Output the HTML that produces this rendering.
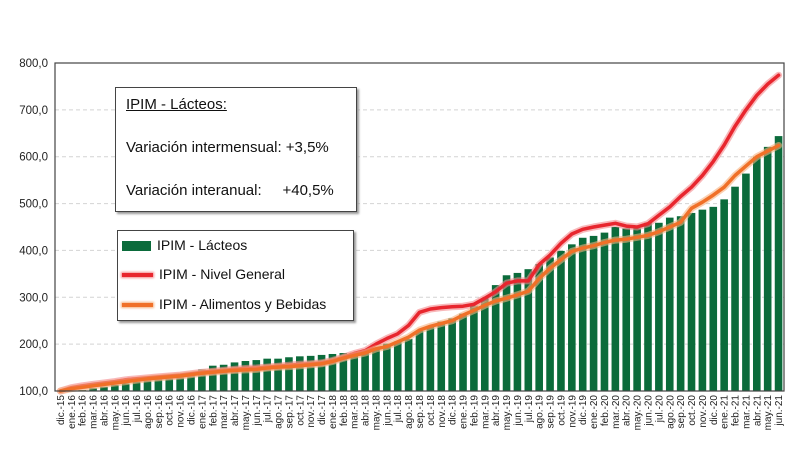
<!DOCTYPE html>
<html><head><meta charset="utf-8"><style>
body{margin:0;background:#fff;width:803px;height:453px;overflow:hidden;font-family:"Liberation Sans","DejaVu Sans",sans-serif}
svg{display:block}
</style></head><body>
<svg id="chart" width="803" height="453"></svg>
<script>
const categories=["dic.-15","ene.-16","feb.-16","mar.-16","abr.-16","may.-16","jun.-16","jul.-16","ago.-16","sep.-16","oct.-16","nov.-16","dic.-16","ene.-17","feb.-17","mar.-17","abr.-17","may.-17","jun.-17","jul.-17","ago.-17","sep.-17","oct.-17","nov.-17","dic.-17","ene.-18","feb.-18","mar.-18","abr.-18","may.-18","jun.-18","jul.-18","ago.-18","sep.-18","oct.-18","nov.-18","dic.-18","ene.-19","feb.-19","mar.-19","abr.-19","may.-19","jun.-19","jul.-19","ago.-19","sep.-19","oct.-19","nov.-19","dic.-19","ene.-20","feb.-20","mar.-20","abr.-20","may.-20","jun.-20","jul.-20","ago.-20","sep.-20","oct.-20","nov.-20","dic.-20","ene.-21","feb.-21","mar.-21","abr.-21","may.-21","jun.-21"];
const lacteos=[100,101,102,106,109,113,116,120,124,126,127,129,132,146,154,156,161,164,166,169,169,172,174,175,177,179,181,182,186,191,201,206,211,228,239,248,255,265,282,298,326,347,352,360,371,385,399,413,427,431,438,450,447,447,459,459,470,473,480,487,493,509,536,564,600,621,644];
const nivelGeneral=[100,107,111,114,117,120,124,126,128,130,132,134,137,140,142,144,146,148,149,151,153,155,157,158,160,165,172,180,186,200,212,222,240,268,275,278,280,281,285,298,312,330,335,335,370,390,415,435,445,450,454,458,452,450,457,475,493,515,535,560,590,625,665,700,731,755,774];
const alimentos=[100,105,108,111,114,117,120,123,126,128,130,132,135,138,140,142,144,145,146,149,151,152,154,156,158,163,170,176,181,190,195,205,215,230,238,244,250,262,272,283,292,298,305,313,340,362,380,398,405,410,417,422,424,428,432,440,450,460,490,503,518,535,560,580,600,612,624];
const yTicks=[100,200,300,400,500,600,700,800];
const yTickLabels=["100,0","200,0","300,0","400,0","500,0","600,0","700,0","800,0"];

const NS="http://www.w3.org/2000/svg";
const svg=document.getElementById('chart');
const L=55,R=784,T=63,B=391,yMin=100,yMax=800;
const slot=(R-L)/categories.length;
const xC=i=>L+slot*(i+0.5);
const yS=v=>B-(v-yMin)/(yMax-yMin)*(B-T);
function mk(tag,attrs,parent){const e=document.createElementNS(NS,tag);for(const k in attrs)e.setAttribute(k,attrs[k]);(parent||svg).appendChild(e);return e;}

mk('rect',{x:L,y:T,width:R-L,height:B-T,fill:'#fff'});
yTicks.forEach((t,i)=>{
  if(t>yMin&&t<yMax){const g=mk('line',{x1:L,x2:R,y1:yS(t),y2:yS(t),stroke:'#d4d4d4','stroke-dasharray':'4,3','stroke-width':1});
  
  }
  const tx=mk('text',{x:48,y:yS(t)+4,'text-anchor':'end','font-size':11.5,fill:'#222'});
  tx.textContent=yTickLabels[i];
  
  
});
lacteos.forEach((v,i)=>{
  const r=mk('rect',{x:xC(i)-3.8,y:yS(v),width:7.6,height:B-yS(v),fill:'#0b6b3b'});
  
  
});
function line(arr,color,halo,name){
  const d=arr.map((v,i)=>(i?'L':'M')+xC(i).toFixed(1)+','+yS(v).toFixed(1)).join('');
  mk('path',{d:d,fill:'none',stroke:halo,'stroke-width':7,'stroke-linejoin':'round','stroke-linecap':'round',opacity:0.6});
  const p=mk('path',{d:d,fill:'none',stroke:color,'stroke-width':3.5,'stroke-linejoin':'round','stroke-linecap':'round'});
  
  
}
line(nivelGeneral,'#e8262e','#f4898c','line-nivel-general');
line(alimentos,'#f07028','#f6b07e','line-alimentos-bebidas');
mk('rect',{x:L,y:T,width:R-L,height:B-T,fill:'none',stroke:'#444','stroke-width':1.2});
categories.forEach((c,i)=>{
  const t=mk('text',{x:0,y:0,'text-anchor':'end','font-size':10,fill:'#222',transform:`translate(${xC(i)+3.5},395) rotate(-90)`});
  t.textContent=c;
  
  
});
</script>
<div style="position:absolute;left:115px;top:87px;width:240px;height:123px;border:1px solid #444;background:#fff;box-shadow:2px 2px 2px #999;font-size:15px;color:#111;">
  <div style="position:absolute;left:10px;top:8px;text-decoration:underline">IPIM - Lácteos:</div>
  <div style="position:absolute;left:10px;top:51px;white-space:nowrap">Variación intermensual: +3,5%</div>
  <div style="position:absolute;left:10px;top:94px;white-space:nowrap">Variación interanual:&nbsp;&nbsp;&nbsp;&nbsp;&nbsp;+40,5%</div>
</div>
<div style="position:absolute;left:117px;top:230px;width:235px;height:89px;border:1px solid #444;background:#fff;box-shadow:2px 2px 2px #999;font-size:14px;color:#111;">
  <div style="position:absolute;left:4px;top:6px;white-space:nowrap"><span style="display:inline-block;width:29px;height:10px;background:#0b6b3b;vertical-align:middle;margin-right:6px"></span>IPIM - Lácteos</div>
  <div style="position:absolute;left:4px;top:35px;white-space:nowrap"><span style="display:inline-block;width:31px;height:4px;background:#e8262e;box-shadow:0 0 2px 1px #f4898c;vertical-align:middle;margin-right:6px"></span>IPIM - Nivel General</div>
  <div style="position:absolute;left:4px;top:65px;white-space:nowrap"><span style="display:inline-block;width:31px;height:4px;background:#f07028;box-shadow:0 0 2px 1px #f6b07e;vertical-align:middle;margin-right:6px"></span>IPIM - Alimentos y Bebidas</div>
</div>
</body></html>
